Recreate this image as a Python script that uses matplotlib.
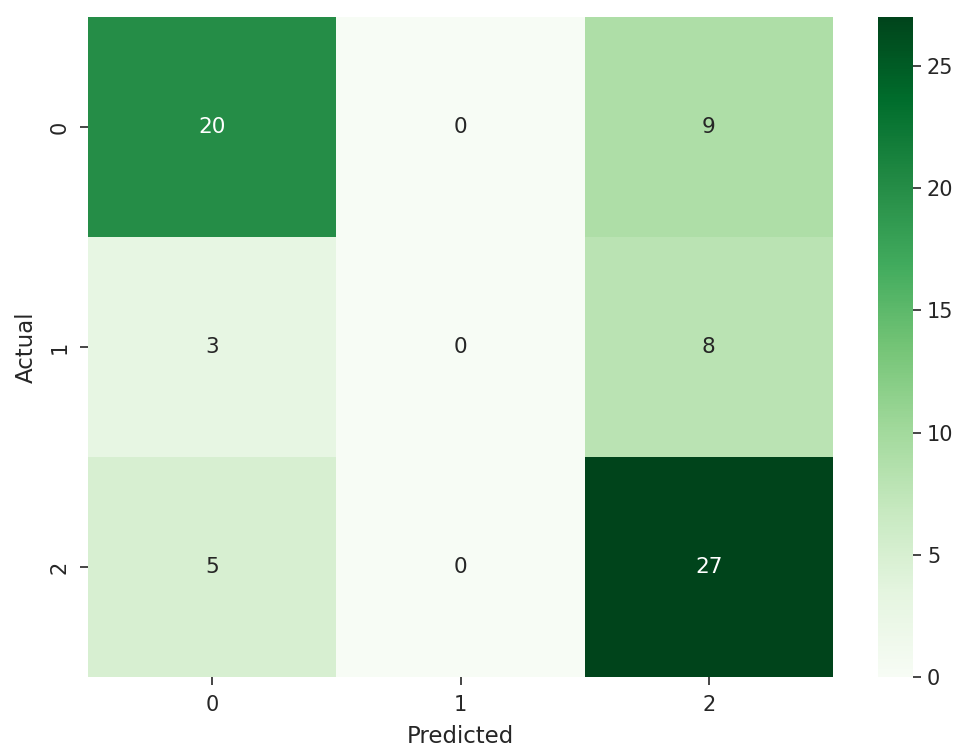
import matplotlib
matplotlib.use("Agg")
import matplotlib.pyplot as plt
import seaborn as sns
import numpy as np

actual_labels = ["0", "1", "2"]
predicted_labels = ["0", "1", "2"]
row_0 = [20, 0, 9]
row_1 = [3, 0, 8]
row_2 = [5, 0, 27]

cm = np.array([row_0, row_1, row_2])

plt.rcParams.update({
    "text.color": "#262626",
    "axes.labelcolor": "#262626",
    "xtick.color": "#262626",
    "ytick.color": "#262626",
    "xtick.labelsize": 15,
    "ytick.labelsize": 15,
    "xtick.major.size": 6,
    "ytick.major.size": 6,
    "xtick.major.width": 1.2,
    "ytick.major.width": 1.2,
})

fig = plt.figure(figsize=(9.6, 7.47), dpi=100)
ax = fig.add_axes([88 / 960, 1 - 677 / 747, (833 - 88) / 960, (677 - 17) / 747])
cax = fig.add_axes([878 / 960, 1 - 677 / 747, 35 / 960, (677 - 17) / 747])

sns.heatmap(cm, annot=True, fmt="d", cmap="Greens", ax=ax, cbar_ax=cax,
            xticklabels=predicted_labels, yticklabels=actual_labels,
            annot_kws={"fontsize": 15.5})
ax.set_xlabel("Predicted", fontsize=16.5, labelpad=7)
ax.set_ylabel("Actual", fontsize=16.5, labelpad=9)
ax.tick_params(pad=7)
cax.tick_params(pad=4)
for lbl in ax.get_xticklabels() + ax.get_yticklabels() + cax.get_yticklabels():
    lbl.set_fontsize(15)
for s in cax.spines.values():
    s.set_visible(False)

fig.savefig("out.png", dpi=100)
